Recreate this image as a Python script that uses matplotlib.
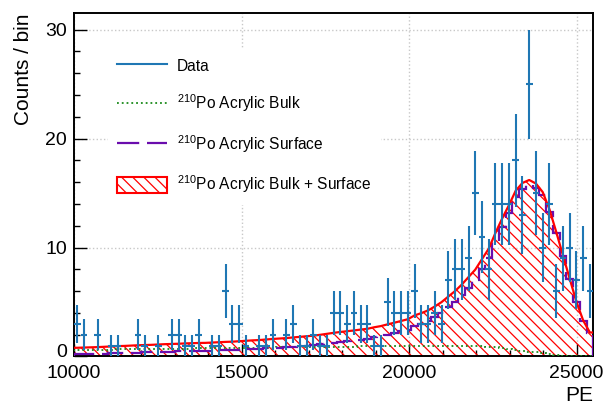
import numpy as np
import matplotlib
matplotlib.use("Agg")
import matplotlib.pyplot as plt
import matplotlib.transforms as mtransforms
from matplotlib.lines import Line2D
from matplotlib.patches import Patch

plt.rcParams['font.family'] = ['Liberation Sans', 'DejaVu Sans']
plt.rcParams['mathtext.fontset'] = 'custom'
plt.rcParams['mathtext.rm'] = 'Liberation Sans'
plt.rcParams['mathtext.it'] = 'Liberation Sans'
plt.rcParams['hatch.linewidth'] = 0.9
plt.rcParams['hatch.color'] = 'red'

# ---------------- data ----------------
pe_min, pe_max, n_bins = 10000, 25500, 77

# counts per bin (0 = empty bin, not drawn)
counts = [3, 2, 0, 2, 0, 1, 1, 0, 0, 2,
          1, 0, 1, 0, 2, 2, 1, 1, 2, 0,
          1, 1, 6, 3, 3, 1, 0, 1, 1, 2,
          0, 2, 3, 1, 1, 2, 1, 1, 4, 4,
          3, 4, 3, 3, 1, 1, 5, 4, 4, 4,
          6, 3, 3, 4, 3, 7, 8, 8, 9, 15,
          11, 8, 14, 14, 14, 18, 13, 25, 15, 10,
          14, 6, 9, 10, 7, 9, 6]

# 210Po acrylic bulk model
bulk = [0.60, 0.61, 0.62, 0.62, 0.63, 0.64, 0.65, 0.65, 0.66, 0.67,
        0.68, 0.68, 0.69, 0.70, 0.71, 0.71, 0.72, 0.73, 0.74, 0.74,
        0.75, 0.76, 0.77, 0.77, 0.78, 0.79, 0.80, 0.80, 0.81, 0.82,
        0.83, 0.83, 0.84, 0.85, 0.86, 0.86, 0.87, 0.88, 0.89, 0.89,
        0.90, 0.91, 0.92, 0.92, 0.93, 0.94, 0.95, 0.95, 0.96, 0.97,
        0.97, 0.98, 0.98, 0.99, 0.99, 1.00, 1.00, 1.00, 0.99, 0.97,
        0.94, 0.90, 0.85, 0.78, 0.70, 0.62, 0.53, 0.45, 0.37, 0.29,
        0.21, 0.14, 0.08, 0.04, 0.02, 0.01, 0.00]

# 210Po acrylic surface model
surface = [0.20, 0.21, 0.22, 0.24, 0.26, 0.28, 0.30, 0.32, 0.34, 0.36,
           0.37, 0.39, 0.41, 0.43, 0.44, 0.46, 0.48, 0.49, 0.50, 0.51,
           0.53, 0.55, 0.57, 0.59, 0.62, 0.65, 0.68, 0.71, 0.75, 0.79,
           0.82, 0.86, 0.91, 0.95, 1.00, 1.05, 1.12, 1.20, 1.28, 1.36,
           1.42, 1.48, 1.55, 1.62, 1.75, 1.85, 2.00, 2.15, 2.30, 2.45,
           2.80, 3.00, 3.25, 3.60, 4.00, 4.50, 5.00, 5.60, 6.30, 7.00,
           8.00, 9.00, 10.50, 11.90, 13.20, 14.60, 15.40, 15.75, 15.50, 14.80,
           13.30, 11.30, 9.20, 7.10, 5.00, 3.30, 2.20]

edges = np.linspace(pe_min, pe_max, n_bins + 1)
centers = 0.5 * (edges[:-1] + edges[1:])
half_w = 0.5 * (edges[1] - edges[0])

counts = np.array(counts, dtype=float)
bulk = np.array(bulk)
surface = np.array(surface)
total = bulk + surface

# ---------------- plot ----------------
fig = plt.figure(figsize=(6.08, 4.09), dpi=100)
ax = fig.add_axes([0.1217, 0.1284, 0.8541, 0.8391])

c_data = '#1f77b4'
c_bulk = '#1a8a1a'
c_surf = '#6a0dad'
c_tot = 'red'

# sum: hatched area with smooth red outline
xs = np.concatenate([[edges[0]], centers, [edges[-1]]])
ys = np.concatenate([[total[0]], total, [total[-1]]])
ax.fill_between(xs, 0, ys, facecolor='none', edgecolor='red', hatch='\\\\\\', lw=0, zorder=2)
ax.plot(xs, ys, color=c_tot, lw=1.6, zorder=4)

# bulk (dotted)
ax.stairs(bulk, edges, color=c_bulk, ls=':', lw=1.3, zorder=3)
# surface (long dashes)
ax.stairs(surface, edges, color=c_surf, ls=(0, (10, 3.5)), lw=1.6, zorder=3)

# data
m = counts > 0
ax.errorbar(centers[m], counts[m], yerr=np.sqrt(counts[m]), xerr=half_w,
            fmt='none', ecolor=c_data, elinewidth=1.5, capsize=0, zorder=5)

ax.set_xlim(pe_min, pe_max)
ax.set_ylim(0, 31.5)
ax.set_xticks([10000, 15000, 20000, 25000])
ax.set_xticks(np.arange(10000, 25501, 1000), minor=True)
ax.set_yticks([0, 10, 20, 30])
ax.set_yticks(np.arange(0, 31.5, 2), minor=True)
ax.tick_params(which='both', direction='in', labelsize=14, top=False, right=False, width=1)
ax.tick_params(axis='x', which='major', length=9, pad=6)
ax.tick_params(axis='y', which='major', length=9, pad=5)
ax.tick_params(which='minor', length=4.5)
for s in ax.spines.values():
    s.set_linewidth(1.4)
ax.grid(which='major', color='#c8c8c8', ls=':', lw=1)
ax.set_axisbelow(True)

# lift the "0" label a bit so it clears "10000"
fig.canvas.draw()
ylabs = ax.get_yticklabels()
ylabs[0].set_transform(ylabs[0].get_transform() +
                       mtransforms.ScaledTranslation(0, 4 / 72, fig.dpi_scale_trans))

ax.set_ylabel('Counts / bin', fontsize=15, loc='top', labelpad=9)
ax.set_xlabel('PE', fontsize=15, loc='right', labelpad=3)

handles = [Line2D([], [], color=c_data, lw=1.5),
           Line2D([], [], color=c_bulk, ls=':', lw=1.3),
           Line2D([], [], color=c_surf, ls=(0, (10, 3.5)), lw=1.6),
           Patch(facecolor='white', edgecolor='red', hatch='\\\\\\', lw=1.5)]
labels = ['Data',
          r'$^{210}$Po Acrylic Bulk',
          r'$^{210}$Po Acrylic Surface',
          r'$^{210}$Po Acrylic Bulk + Surface']
leg = ax.legend(handles, labels, loc='upper left', bbox_to_anchor=(0.05, 0.92),
                fontsize=11.2, frameon=True, fancybox=False, edgecolor='none',
                facecolor='white', framealpha=1, handlelength=3.2, handleheight=1.2,
                handletextpad=0.65, labelspacing=1.2, borderpad=0.6)

fig.savefig('out.png', dpi=100)
